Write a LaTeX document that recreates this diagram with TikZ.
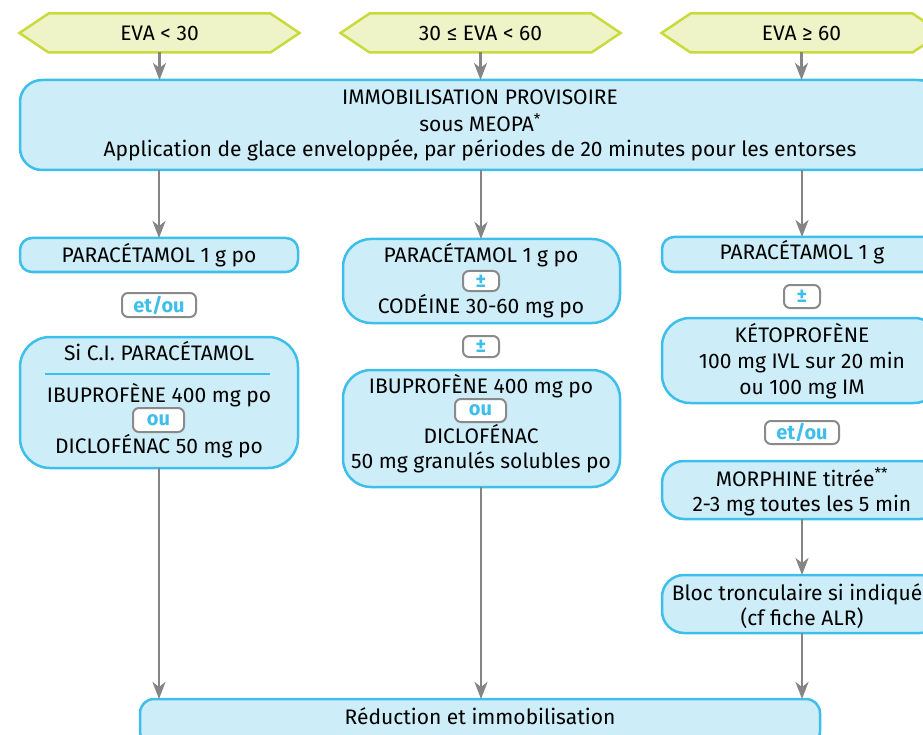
\documentclass[tikz,border=0pt]{standalone}
\usepackage{fontspec}
\setmainfont{Fira Sans}
\usetikzlibrary{arrows.meta,calc,backgrounds}
\definecolor{cyanB}{HTML}{3EBEEA}
\definecolor{cyanF}{HTML}{CDEDF8}
\definecolor{hexF}{HTML}{EFF4C8}
\definecolor{hexB}{HTML}{C8DA3C}
\definecolor{grayA}{HTML}{858585}
\definecolor{labB}{HTML}{8A8A8A}
\begin{document}
\begin{tikzpicture}[x=1pt,y=-1pt,
 every node/.style={font=\fontsize{21}{25}\selectfont, inner sep=0pt, outer sep=0pt},
 bx/.style={draw=cyanB, fill=cyanF, line width=2.5pt},
 hexnode/.style={minimum width=222pt, minimum height=39pt},
 hexs/.style={draw=hexB, fill=hexF, line width=2.5pt},
 lab/.style={draw=labB, fill=white, line width=2pt, rounded corners=6pt, text=cyanB, font=\fontsize{20}{20}\selectfont\bfseries},
 t/.style={anchor=base},
 arr/.style={draw=grayA, line width=2.6pt, -{Stealth[length=17pt,width=13pt,inset=5pt]}},
]
\useasboundingbox (0,0) rectangle (923,735);

% hexagons
\node[hexnode] (h1) at (159.5,33) {};
\node[hexnode] (h2) at (480.5,33) {};
\node[hexnode] (h3) at (801.5,33) {};
\foreach \h in {h1,h2,h3}{
  \draw[hexs] (\h.north west) -- (\h.north east) -- ($(\h.east)+(29,0)$) -- (\h.south east) -- (\h.south west) -- ($(\h.west)+(-29,0)$) -- cycle;
}
\node[t] (h1t) at (159.5,41) {EVA < 30};
\node[t] (h2t) at (480.5,41) {30 ≤ EVA < 60};
\node[t] (h3t) at (801.5,41) {EVA ≥ 60};

% big box
\node[bx, minimum width=920pt, minimum height=90pt, rounded corners=22pt] (big) at (480,125) {};
\node[t] (b1) at (480,105) {IMMOBILISATION PROVISOIRE};
\node[t] (b2) at (480,132) {sous MEOPA\textsuperscript{*}};
\node[t] (b3) at (480,157) {Application de glace enveloppée, par périodes de 20 minutes pour les entorses};

% left column
\node[bx, minimum width=278pt, minimum height=34pt, rounded corners=12pt] (pL) at (159,255) {};
\node[t] (pLt) at (159,262) {PARACÉTAMOL 1 g po};
\node[lab, minimum width=74pt, minimum height=24pt] (lL) at (159,305) {et/ou};
\node[bx, minimum width=278pt, minimum height=131pt, rounded corners=30pt] (siL) at (159,402.5) {};
\node[t] (s1) at (159,360) {Si C.I. PARACÉTAMOL};
\draw[draw=cyanB, line width=2.5pt] (45,374) coordinate (sepA) -- (270,374) coordinate (sepB);
\node[t] (s2) at (159,402) {IBUPROFÈNE 400 mg po};
\node[lab, minimum width=51pt, minimum height=24pt] (ouL) at (158.5,420) {ou};
\node[t] (s3) at (159,453) {DICLOFÉNAC 50 mg po};

% middle column
\node[bx, minimum width=277pt, minimum height=84pt, rounded corners=28pt] (m1) at (481.5,281) {};
\node[t] (m1a) at (481,262) {PARACÉTAMOL 1 g po};
\node[lab, minimum width=36pt, minimum height=20pt] (pm1) at (481,281) {±};
\node[t] (m1b) at (481,313) {CODÉINE 30-60 mg po};
\node[lab, minimum width=36pt, minimum height=21pt] (pm2) at (481,346.5) {±};
\node[bx, minimum width=277pt, minimum height=117pt, rounded corners=28pt] (m2) at (481.5,428.5) {};
\node[t] (m2a) at (481,393) {IBUPROFÈNE 400 mg po};
\node[lab, minimum width=51pt, minimum height=23pt] (ouM) at (480.5,410.5) {ou};
\node[t] (m2b) at (481,443) {DICLOFÉNAC};
\node[t] (m2c) at (481,468) {50 mg granulés solubles po};

% right column
\node[bx, minimum width=280pt, minimum height=35pt, rounded corners=12pt] (r1) at (802,254.5) {};
\node[t] (r1t) at (802,260) {PARACÉTAMOL 1 g};
\node[lab, minimum width=36pt, minimum height=23pt] (pr) at (802,296.5) {±};
\node[bx, minimum width=280pt, minimum height=85pt, rounded corners=28pt] (r2) at (802,360.5) {};
\node[t] (r2a) at (802,342) {KÉTOPROFÈNE};
\node[t] (r2b) at (802,368) {100 mg IVL sur 20 min};
\node[t] (r2c) at (802,394) {ou 100 mg IM};
\node[lab, minimum width=74pt, minimum height=23pt] (lR) at (802,432.5) {et/ou};
\node[bx, minimum width=280pt, minimum height=58pt, rounded corners=22pt] (r3) at (802,490) {};
\node[t] (r3a) at (802,486) {MORPHINE titrée\textsuperscript{**}};
\node[t] (r3b) at (802,511) {2-3 mg toutes les 5 min};
\node[bx, minimum width=280pt, minimum height=58pt, rounded corners=22pt] (r4) at (802,604) {};
\node[t] (r4a) at (797,600) {Bloc tronculaire si indiqué};
\node[t] (r4b) at (802,625) {(cf fiche ALR)};

% bottom box
\node[bx, minimum width=680pt, minimum height=46pt, rounded corners=14pt] (red) at (480,722) {};
\node[t] (redt) at (480,724) {Réduction et immobilisation};

% arrows
\draw[arr] (h1.south) -- (h1.south |- big.north);
\draw[arr] (h2.south) -- (h2.south |- big.north);
\draw[arr] (h3.south) -- (h3.south |- big.north);
\draw[arr] (pL.north |- big.south) -- (pL.north);
\draw[arr] (pm1 |- big.south) -- (pm1 |- m1.north);
\draw[arr] (r1.north |- big.south) -- (r1.north);
\draw[arr] (siL.south) -- (siL.south |- red.north);
\draw[arr] (pm1 |- m2.south) -- (pm1 |- red.north);
\draw[arr] (r3.south) -- (r4.north);
\draw[arr] (r4.south) -- (r4.south |- red.north);
\end{tikzpicture}
\end{document}
